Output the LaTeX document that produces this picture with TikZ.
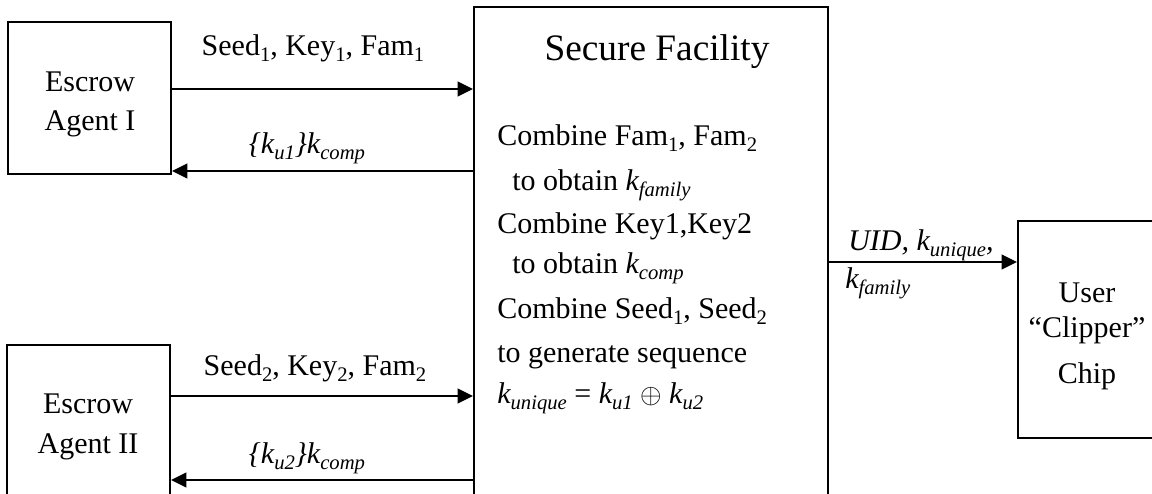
\documentclass[tikz,border=0pt]{standalone}
\usepackage{fontspec}
\setmainfont{Liberation Serif}
\usetikzlibrary{arrows.meta}
\newcommand{\sbs}[1]{\raisebox{-0.2em}{\fontsize{15.5}{16}\selectfont #1}}
\begin{document}
\begin{tikzpicture}[x=0.75pt,y=-0.75pt,
  box/.style={draw, line width=1.5pt, rectangle, inner sep=0pt},
  arr/.style={line width=1.5pt, -{Triangle[length=11.5pt,width=11pt]}},
  txt/.style={font=\fontsize{22.5}{27}\selectfont, inner sep=0pt},
  ttl/.style={font=\fontsize{28}{33}\selectfont, inner sep=0pt}]
\clip (0,0) rectangle (1152,493);
\fill[white] (0,0) rectangle (1152,493);
% boxes
\node[box, minimum width=122.25pt, minimum height=114pt] (e1) at (89.5,98) {};
\node[box, minimum width=122.25pt, minimum height=114pt] (e2) at (88.5,421) {};
\node[box, minimum width=265.5pt, minimum height=384.75pt] (sf) at (651,263.5) {};
\node[box, minimum width=114pt, minimum height=162.75pt] (u) at (1094,329.5) {};
% box texts
\node[txt, anchor=base] (e1a) at (90,91) {Escrow};
\node[txt, anchor=base] (e1b) at (90,130) {Agent I};
\node[txt, anchor=base] (e2a) at (88,413) {Escrow};
\node[txt, anchor=base] (e2b) at (88,453) {Agent II};
\node[ttl, anchor=base] (sft) at (657,60) {Secure Facility};
\node[txt, anchor=base west] (s1) at (497,145) {Combine Fam\sbs{1}, Fam\sbs{2}};
\node[txt, anchor=base west] (s2) at (512,190) {to obtain \textit{k\sbs{family}}};
\node[txt, anchor=base west] (s3) at (497,233) {Combine Key1,Key2};
\node[txt, anchor=base west] (s4) at (512,273) {to obtain \textit{k\sbs{comp}}};
\node[txt, anchor=base west] (s5) at (497,318) {Combine Seed\sbs{1}, Seed\sbs{2}};
\node[txt, anchor=base west] (s6) at (497,362) {to generate sequence};
\node[txt, anchor=base west] (s7) at (497,403) {\textit{k\sbs{unique}} = \textit{k\sbs{u1}} $\oplus$ \textit{k\sbs{u2}}};
\node[txt, anchor=base] (u1) at (1087,302) {User};
\node[txt, anchor=base] (u2) at (1087,337) {“Clipper”};
\node[txt, anchor=base] (u3) at (1087,383) {Chip};
% connectors
\coordinate (y1) at (0,89);
\coordinate (y2) at (0,171);
\coordinate (y3) at (0,396);
\coordinate (y4) at (0,480);
\coordinate (y5) at (0,262);
\draw[arr] (e1.east |- y1) -- (sf.west |- y1);
\draw[arr] (sf.west |- y2) -- (e1.east |- y2);
\draw[arr] (e2.east |- y3) -- (sf.west |- y3);
\draw[arr] (sf.west |- y4) -- (e2.east |- y4);
\draw[arr] (sf.east |- y5) -- (u.west |- y5);
% connector labels
\node[txt, anchor=base] (l1) at (313,55) {Seed\sbs{1}, Key\sbs{1}, Fam\sbs{1}};
\node[txt, anchor=base] (l2) at (307,153) {\textit{\{k\sbs{u1}\}k\sbs{comp}}};
\node[txt, anchor=base] (l3) at (315,375) {Seed\sbs{2}, Key\sbs{2}, Fam\sbs{2}};
\node[txt, anchor=base] (l4) at (307,463) {\textit{\{k\sbs{u2}\}k\sbs{comp}}};
\node[txt, anchor=base west] (ul1) at (848,250) {\textit{UID, k\sbs{unique},}};
\node[txt, anchor=base west] (ul2) at (845,288) {\textit{k\sbs{family}}};
\end{tikzpicture}
\end{document}
